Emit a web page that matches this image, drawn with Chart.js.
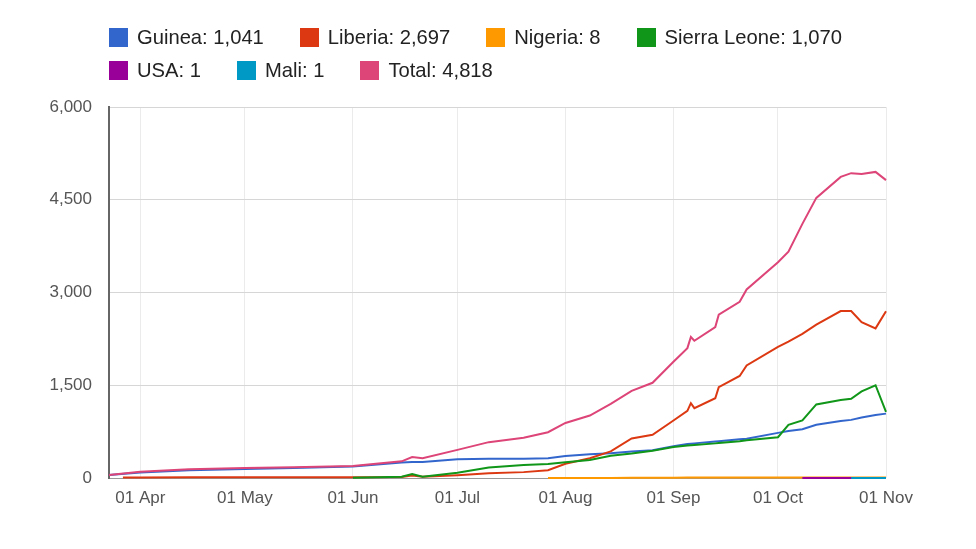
<!DOCTYPE html>
<html>
<head>
<meta charset="utf-8">
<script src="https://cdn.jsdelivr.net/npm/chart.js@4.4.1/dist/chart.umd.min.js"></script>
<style>
  body { margin: 0; background: #fff; font-family: Arial, "Liberation Sans", sans-serif; }
  #wrap { position: relative; width: 976px; height: 549px; }
  #legend {
    position: absolute; left: 109px; top: 28px; width: 790px;
    display: flex; flex-wrap: wrap; row-gap: 14px;
    font-size: 20.2px; color: #222; line-height: 19px;
  }
  .item { display: flex; align-items: center; margin-right: 36px; white-space: nowrap; }
  .swatch { width: 19px; height: 19px; margin-right: 9px; }
  canvas { position: absolute; left: 0; top: 0; }
</style>
</head>
<body>
<div id="wrap">
  <canvas id="chart" width="976" height="549"></canvas>
  <div id="legend"></div>
</div>
<script>
"use strict";

// ---------- Data ----------

const dates = [
    "2014-03-23", "2014-03-27", "2014-04-01", "2014-04-15", "2014-05-01", "2014-05-15",
    "2014-06-01", "2014-06-15", "2014-06-18", "2014-06-21", "2014-07-01", "2014-07-10",
    "2014-07-20", "2014-07-27", "2014-08-01", "2014-08-08", "2014-08-14", "2014-08-20",
    "2014-08-26", "2014-09-01", "2014-09-05", "2014-09-06", "2014-09-07", "2014-09-13",
    "2014-09-14", "2014-09-20", "2014-09-22", "2014-10-01", "2014-10-04", "2014-10-08",
    "2014-10-12", "2014-10-19", "2014-10-22", "2014-10-25", "2014-10-29", "2014-11-01",
];

const guinea = [
    49, null, 88, 125, 145, 160, 185, 250, 258, 260, 305, 310,
    310, 320, 355, 385, 400, 430, 450, 515, 550, 555, 560, 590,
    595, 625, 635, 730, 760, 790, 860, 920, 940, 980, 1020, 1041,
];
const liberia = [
    null, 8, 10, 12, 13, 12, 12, 18, 40, 20, 45, 75,
    95, 125, 230, 320, 430, 640, 700, 930, 1085, 1210, 1130, 1290,
    1470, 1650, 1820, 2120, 2205, 2330, 2480, 2700, 2700, 2520, 2420, 2697,
];
const nigeria = [
    null, null, null, null, null, null, null, null, null, null, null, null,
    null, 1, 1, 1, 2, 4, 5, 6, 7, 7, 8, 8,
    8, 8, 8, 8, 8, 8, 8, 8, 8, 8, 8, 8,
];
const sierraLeone = [
    null, null, null, null, null, null, 6, 20, 65, 20, 85, 170,
    210, 225, 255, 290, 360, 395, 440, 500, 525, 530, 535, 560,
    565, 595, 610, 660, 860, 930, 1190, 1260, 1280, 1400, 1500, 1070,
];
const usa = [
    null, null, null, null, null, null, null, null, null, null, null, null,
    null, null, null, null, null, null, null, null, null, null, null, null,
    null, null, null, null, null, 1, 1, 1, 1, 1, 1, 1,
];
const mali = [
    null, null, null, null, null, null, null, null, null, null, null, null,
    null, null, null, null, null, null, null, null, null, null, null, null,
    null, null, null, null, null, null, null, null, 1, 1, 1, 1,
];
const total = [
    50, null, 100, 140, 160, 175, 195, 270, 340, 320, 455, 580,
    650, 740, 890, 1010, 1200, 1410, 1540, 1880, 2100, 2280, 2220, 2440,
    2640, 2850, 3050, 3490, 3660, 4110, 4530, 4870, 4930, 4915, 4950, 4818,
];

const seriesNames = ["Guinea", "Liberia", "Nigeria", "Sierra Leone", "USA", "Mali", "Total"];
const seriesValues = [guinea, liberia, nigeria, sierraLeone, usa, mali, total];
const seriesColors = ["#3366cc", "#dc3912", "#ff9900", "#109618", "#990099", "#0099c6", "#dd4477"];

const xRange = ["2014-03-23", "2014-11-01"];
const tickDates = ["2014-04-01", "2014-05-01", "2014-06-01", "2014-07-01", "2014-08-01", "2014-09-01", "2014-10-01", "2014-11-01"];
const tickLabels = ["01 Apr", "01 May", "01 Jun", "01 Jul", "01 Aug", "01 Sep", "01 Oct", "01 Nov"];
const yTicks = [0, 1500, 3000, 4500, 6000];

// ---------- Helpers ----------

function dayNum(s) {
    const [y, m, d] = s.split("-").map(Number);
    return Date.UTC(y, m - 1, d) / 86400000;
}

const dayValues = dates.map(dayNum);
const tickDays = tickDates.map(dayNum);

// ---------- Legend ----------

function renderLegend() {
    const el = document.getElementById("legend");
    el.innerHTML = seriesNames
        .map((name, i) => {
            const vals = seriesValues[i];
            const last = vals[vals.length - 1];
            return `<div class="item"><span class="swatch" style="background:${seriesColors[i]}"></span>${name}: ${last.toLocaleString("en-US")}</div>`;
        })
        .join("");
}

// ---------- Chart ----------

function renderChart() {
    const n = seriesNames.length;
    const datasets = seriesNames.map((name, i) => ({
        label: name,
        data: seriesValues[i].map((v, j) => ({ x: dayValues[j], y: v })),
        borderColor: seriesColors[i],
        backgroundColor: seriesColors[i],
        borderWidth: 2,
        pointRadius: 0,
        tension: 0,
        spanGaps: true,
        clip: 3,
        order: n - 1 - i,   // later series drawn on top
    }));

    new Chart(document.getElementById("chart"), {
        type: "line",
        data: { datasets },
        options: {
            responsive: false,
            animation: false,
            layout: { padding: { top: 107, right: 90, left: 0, bottom: 0 } },
            plugins: { legend: { display: false }, tooltip: { enabled: false } },
            scales: {
                x: {
                    type: "linear",
                    min: dayNum(xRange[0]),
                    max: dayNum(xRange[1]),
                    afterBuildTicks: (scale) => {
                        scale.ticks = tickDays.map((v) => ({ value: v }));
                    },
                    afterFit: (scale) => { scale.height = 71; },
                    grid: { color: "#ebebeb", drawTicks: false },
                    border: { display: false },
                    ticks: {
                        autoSkip: false,
                        maxRotation: 0,
                        padding: 10,
                        color: "#555",
                        font: { family: "Arial, 'Liberation Sans'", size: 17 },
                        callback: (v) => tickLabels[tickDays.indexOf(v)],
                    },
                },
                y: {
                    min: 0,
                    max: 6000,
                    afterBuildTicks: (scale) => {
                        scale.ticks = yTicks.map((v) => ({ value: v }));
                    },
                    afterFit: (scale) => { scale.width = 109; },
                    grid: {
                        drawTicks: false,
                        color: (ctx) => (ctx.tick && ctx.tick.value === 0 ? "#999" : "#d6d6d6"),
                        lineWidth: 1,
                    },
                    border: { display: true, color: "#666", width: 2 },
                    ticks: {
                        padding: 17,
                        color: "#555",
                        font: { family: "Arial, 'Liberation Sans'", size: 17 },
                        callback: (v) => Number(v).toLocaleString("en-US"),
                    },
                },
            },
        },
    });
}

renderLegend();
renderChart();
</script>
</body>
</html>
